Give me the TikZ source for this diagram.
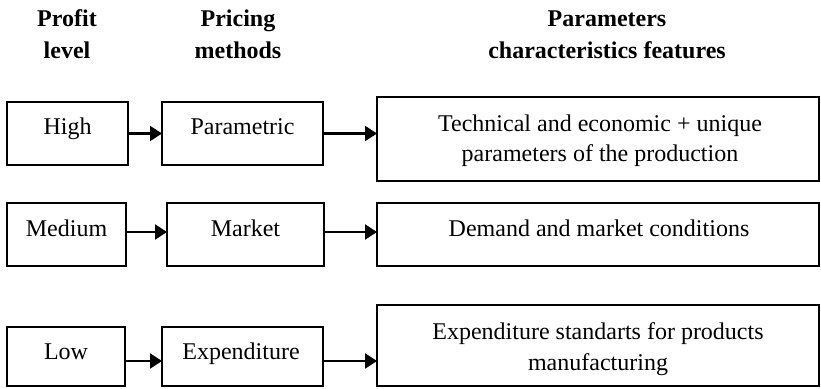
\documentclass[tikz,border=0pt]{standalone}
\usepackage{fontspec}
\setmainfont{Liberation Serif}
\usetikzlibrary{arrows.meta,calc}
\tikzset{
  box/.style={draw, line width=2.2pt, inner sep=0pt, outer sep=0pt, anchor=north west},
  lbl/.style={anchor=base, inner sep=0pt, font=\fontsize{24}{30}\selectfont},
  hdr/.style={anchor=base, inner sep=0pt, font=\fontsize{24}{30}\selectfont\bfseries},
  arr/.style={-{Triangle[length=12pt,width=15pt]}, line width=2.2pt},
}
\begin{document}
\begin{tikzpicture}[x=1pt,y=-1pt]
\useasboundingbox (0,0) rectangle (821,388);
% headers
\node[hdr] (h1a) at (67,27) {Profit};
\node[hdr] (h1b) at (67,58) {level};
\node[hdr] (h2a) at (238,27) {Pricing};
\node[hdr] (h2b) at (238,58) {methods};
\node[hdr] (h3a) at (607,27) {Parameters};
\node[hdr] (h3b) at (607,58) {characteristics features};
% row 1
\node[box, minimum width=121pt, minimum height=63pt] (high) at (7,102) {};
\node[box, minimum width=161pt, minimum height=63pt] (param) at (162,102) {};
\node[box, minimum width=442pt, minimum height=84pt] (tech) at (377,97) {};
\node[lbl] (hight) at (67.5,134) {High};
\node[lbl] (paramt) at (242.5,134) {Parametric};
\node[lbl] (techa) at (600,131) {Technical and economic + unique};
\node[lbl] (techb) at (600,161) {parameters of the production};
% row 2
\node[box, minimum width=119pt, minimum height=63pt] (medium) at (7,203) {};
\node[box, minimum width=157pt, minimum height=63pt] (market) at (167,203) {};
\node[box, minimum width=442pt, minimum height=63pt] (demand) at (377,203) {};
\node[lbl] (mediumt) at (66.5,236) {Medium};
\node[lbl] (markett) at (245.5,236) {Market};
\node[lbl] (demandt) at (599,236) {Demand and market conditions};
% row 3
\node[box, minimum width=118pt, minimum height=59pt] (low) at (7,327) {};
\node[box, minimum width=161pt, minimum height=59pt] (expend) at (162,327) {};
\node[box, minimum width=442pt, minimum height=81pt] (stand) at (377,305) {};
\node[lbl] (lowt) at (66,359) {Low};
\node[lbl] (expendt) at (241,359) {Expenditure};
\node[lbl] (standa) at (598,339) {Expenditure standarts for products};
\node[lbl] (standb) at (598,370) {manufacturing};
% arrows
\draw[arr] (high.east) -- (param.west);
\draw[arr] (param.east) -- (param.east -| tech.west);
\draw[arr] ([yshift=2.5pt]medium.east) -- ([yshift=2.5pt]medium.east -| market.west);
\draw[arr] ([yshift=2.5pt]market.east) -- ([yshift=2.5pt]market.east -| demand.west);
\draw[arr] ([yshift=-4.5pt]low.east) -- ([yshift=-4.5pt]low.east -| expend.west);
\draw[arr] ([yshift=-4.5pt]expend.east) -- ([yshift=-4.5pt]expend.east -| stand.west);
\end{tikzpicture}
\end{document}
